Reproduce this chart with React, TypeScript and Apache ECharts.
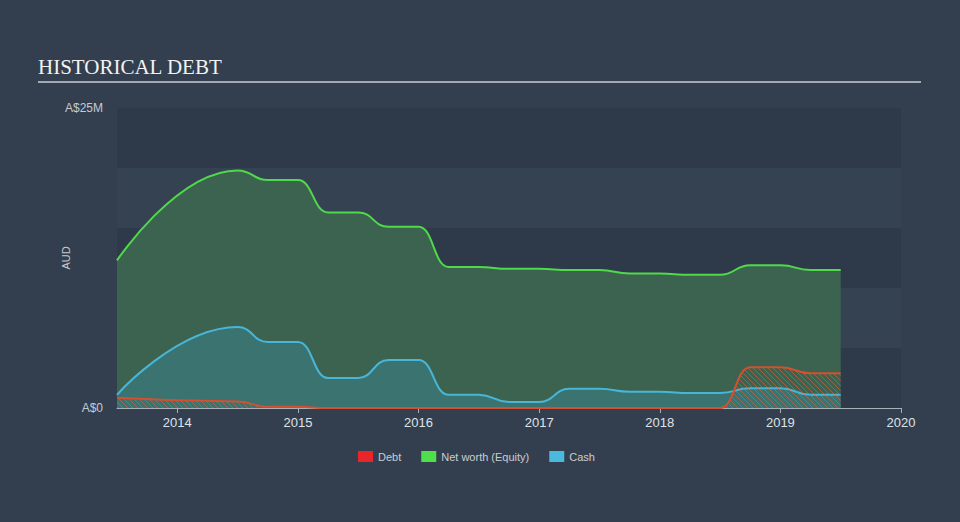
import React, { useEffect, useRef } from "react";
import * as echarts from "echarts";

// ---- data (values in A$ millions, x in fractional years) ----
const dates = [
  2013.5, 2014.5, 2014.75, 2015.0, 2015.25, 2015.5, 2015.75, 2016.0, 2016.25,
  2016.5, 2016.75, 2017.0, 2017.25, 2017.5, 2017.75, 2018.0, 2018.25, 2018.5,
  2018.75, 2019.0, 2019.25, 2019.5,
];
const equity = [
  12.3, 19.8, 19.0, 19.0, 16.3, 16.3, 15.1, 15.1, 11.75, 11.75, 11.6, 11.6,
  11.5, 11.5, 11.2, 11.2, 11.1, 11.1, 11.9, 11.9, 11.5, 11.5,
];
const cash = [
  1.1, 6.75, 5.5, 5.5, 2.5, 2.5, 4.0, 4.0, 1.1, 1.1, 0.5, 0.5, 1.6, 1.6, 1.35,
  1.35, 1.25, 1.25, 1.65, 1.65, 1.1, 1.1,
];
const debt = [
  0.85, 0.55, 0.1, 0.1, 0, 0, 0, 0, 0, 0, 0, 0, 0, 0, 0, 0, 0, 0, 3.4, 3.4, 2.9,
  2.9,
];
const yearTicks = [2014, 2015, 2016, 2017, 2018, 2019, 2020];
const seriesNames = ["Debt", "Net worth (Equity)", "Cash"];

const pair = (vals: number[]) => dates.map((d, i) => [d, vals[i]]);

export default function App() {
  const ref = useRef<HTMLDivElement>(null);
  useEffect(() => {
    if (!ref.current) return;
    document.body.style.margin = "0";
    const chart = echarts.init(ref.current, null, { renderer: "svg" });

    const c = document.createElement("canvas");
    c.width = 5;
    c.height = 5;
    const ctx = c.getContext("2d")!;
    ctx.strokeStyle = "rgba(225,95,60,0.6)";
    ctx.lineWidth = 1;
    ctx.beginPath();
    ctx.moveTo(0, 0);
    ctx.lineTo(5, 5);
    ctx.moveTo(-1, 4);
    ctx.lineTo(1, 6);
    ctx.moveTo(4, -1);
    ctx.lineTo(6, 1);
    ctx.stroke();

    const sans = "'Liberation Sans', Arial, sans-serif";
    chart.setOption({
      animation: false,
      backgroundColor: "#333f4f",
      graphic: [
        {
          type: "text",
          x: 38,
          y: 66.5,
          style: {
            text: "HISTORICAL DEBT",
            fill: "#f2f2f2",
            font: "21px 'Liberation Serif', 'Times New Roman', serif",
            verticalAlign: "middle",
          },
        },
        {
          type: "line",
          shape: { x1: 38, y1: 82, x2: 921, y2: 82 },
          style: { stroke: "#a3aab2", lineWidth: 2 },
        },
      ],
      grid: { left: 117, right: 59, top: 108, bottom: 114 },
      legend: {
        top: 451,
        left: 358,
        padding: 0,
        icon: "rect",
        itemWidth: 15,
        itemHeight: 11,
        itemGap: 20,
        textStyle: { color: "#c9cdd2", fontSize: 11, fontFamily: sans },
        data: [
          { name: seriesNames[0], itemStyle: { color: "#e8262a" } },
          { name: seriesNames[1], itemStyle: { color: "#4ee04a" } },
          { name: seriesNames[2], itemStyle: { color: "#49b9dc" } },
        ],
      },
      xAxis: {
        type: "value",
        min: 2013.5,
        max: 2020,
        splitLine: { show: false },
        axisLine: { show: true, lineStyle: { color: "#a8b0b8", width: 1 } },
        axisTick: {
          show: true,
          customValues: yearTicks,
          length: 5,
          lineStyle: { color: "#a8b0b8" },
        },
        axisLabel: {
          customValues: yearTicks,
          color: "#dfe3e7",
          fontSize: 13,
          fontFamily: sans,
          margin: 8,
          formatter: (v: number) => String(v),
        },
      },
      yAxis: {
        type: "value",
        min: 0,
        max: 25,
        interval: 5,
        name: "AUD",
        nameLocation: "middle",
        nameGap: 46,
        nameMoveOverlap: false,
        nameTextStyle: { color: "#c6cacf", fontSize: 11, fontFamily: sans },
        axisLine: { show: false },
        axisTick: { show: false },
        splitLine: { show: false },
        splitArea: {
          show: true,
          areaStyle: { color: ["#2e3a49", "#354252"] },
        },
        axisLabel: {
          color: "#c6cacf",
          fontSize: 12,
          fontFamily: sans,
          margin: 14,
          formatter: (v: number) => (v === 0 ? "A$0" : v === 25 ? "A$25M" : ""),
        },
      },
      series: [
        {
          name: seriesNames[1],
          type: "line",
          data: pair(equity),
          smooth: 0.5,
          smoothMonotone: "x",
          showSymbol: false,
          lineStyle: { color: "#50d94a", width: 2 },
          itemStyle: { color: "#4ee04a" },
          areaStyle: { color: "#3b634f", opacity: 1 },
          z: 2,
        },
        {
          name: seriesNames[2],
          type: "line",
          data: pair(cash),
          smooth: 0.5,
          smoothMonotone: "x",
          showSymbol: false,
          lineStyle: { color: "#48b6d8", width: 2 },
          itemStyle: { color: "#49b9dc" },
          areaStyle: { color: "#3a7370", opacity: 1 },
          z: 3,
        },
        {
          name: seriesNames[0],
          type: "line",
          data: pair(debt),
          smooth: 0.5,
          smoothMonotone: "x",
          showSymbol: false,
          lineStyle: { color: "#d4502f", width: 2 },
          itemStyle: { color: "#e8262a" },
          areaStyle: {
            color: { image: c, repeat: "repeat", imageWidth: 5, imageHeight: 5 },
            opacity: 1,
          },
          z: 4,
        },
      ],
    });
    return () => chart.dispose();
  }, []);
  return (
    <div
      ref={ref}
      style={{ position: "fixed", left: 0, top: 0, width: 960, height: 522 }}
    />
  );
}
